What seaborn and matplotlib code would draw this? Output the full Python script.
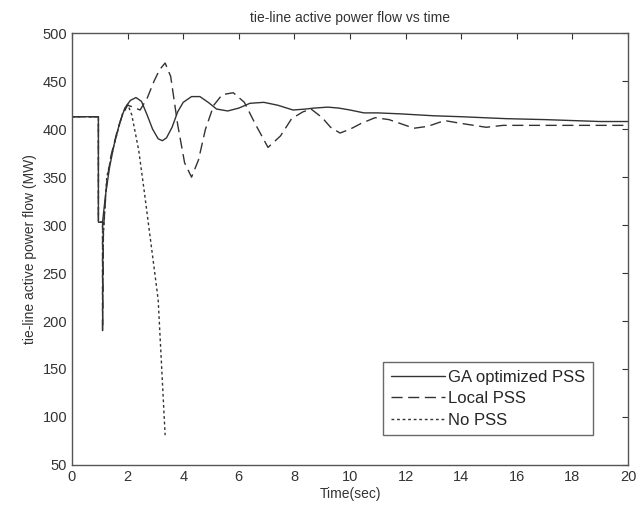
import pandas as pd
import matplotlib
matplotlib.use("Agg")
import matplotlib.pyplot as plt
import seaborn as sns

# Values
t_ga = [0, 0.95, 0.95, 1.1, 1.2, 1.35, 1.5, 1.7, 1.9, 2.1, 2.3, 2.5, 2.7, 2.9, 3.1, 3.25,
        3.4, 3.6, 3.8, 4.0, 4.3, 4.6, 4.9, 5.2, 5.6, 6.0, 6.4, 6.9, 7.4, 7.95, 8.4, 8.7,
        9.2, 9.6, 10.0, 10.5, 11.0, 11.8, 13.0, 14.0, 15.6, 17.0, 18.0, 19.0, 20.0]
p_ga = [413, 413, 303, 303, 330, 360, 382, 405, 422, 430, 433, 429, 415, 400, 390, 388,
        391, 402, 418, 428, 434, 434, 428, 421, 419, 422, 427, 428, 425, 420, 421, 422,
        423, 422, 420, 417, 417, 416, 414, 413, 411, 410, 409, 408, 408]

t_local = [0, 0.95, 0.95, 1.1, 1.1, 1.13, 1.25, 1.4, 1.6, 1.8, 2.0, 2.2, 2.45, 2.7, 2.95,
           3.15, 3.35, 3.55, 3.8, 4.05, 4.3, 4.55, 4.8, 5.1, 5.4, 5.8, 6.2, 6.6, 7.05, 7.5,
           7.9, 8.3, 8.6, 9.0, 9.3, 9.64, 10.0, 10.4, 10.9, 11.4, 11.8, 12.3, 12.8, 13.4,
           14.0, 14.9, 15.5, 16.0, 17.0, 18.0, 19.0, 20.0]
p_local = [413, 413, 303, 303, 190, 295, 345, 372, 395, 414, 425, 423, 420, 432, 450,
           462, 469, 455, 405, 365, 350, 368, 400, 425, 436, 438, 428, 405, 381, 393,
           411, 418, 421, 412, 402, 396, 400, 406, 412, 410, 406, 401, 403, 409,
           406, 402, 404, 404, 404, 404, 404, 404]

t_nopss = [0, 0.95, 0.95, 1.1, 1.1, 1.13, 1.25, 1.5, 1.8, 2.0, 2.15, 2.4, 2.6, 2.8, 3.0,
           3.1, 3.23, 3.35]
p_nopss = [413, 413, 303, 303, 190, 290, 350, 382, 415, 426, 415, 378, 335, 290, 245,
           222, 149, 81]

series = ["GA optimized PSS", "Local PSS", "No PSS"]

frames = []
for name, t, p in zip(series, [t_ga, t_local, t_nopss], [p_ga, p_local, p_nopss]):
    frames.append(pd.DataFrame({"Time": t, "Power": p, "Case": name}))
data = pd.concat(frames, ignore_index=True)

sns.set_style("white")
plt.rcParams["font.family"] = ["Liberation Sans", "DejaVu Sans"]

fig = plt.figure(figsize=(6.37, 5.12), dpi=100)
ax = fig.add_axes([0.113, 0.092, 0.873, 0.843])

styles = {"GA optimized PSS": "-", "Local PSS": (0, (8, 4)), "No PSS": (0, (2, 2))}
for name in series:
    sub = data[data["Case"] == name]
    sns.lineplot(x="Time", y="Power", data=sub, ax=ax, color="#333333",
                 linewidth=1.0, linestyle=styles[name], label=name,
                 sort=False, estimator=None)

ax.set_xlim(0, 20)
ax.set_ylim(50, 500)
ax.set_xticks(range(0, 21, 2))
ax.set_yticks(range(50, 501, 50))
ax.tick_params(direction="in", top=True, right=True, length=4, labelsize=10.5,
               colors="#333333", width=0.8)
for s in ax.spines.values():
    s.set_color("#555555")
    s.set_linewidth(1.0)

ax.set_title("tie-line active power flow vs time", fontsize=10, color="#333333", pad=8)
ax.set_xlabel("Time(sec)", fontsize=10, color="#333333", labelpad=2)
ax.set_ylabel("tie-line active power flow (MW)", fontsize=10, color="#333333", labelpad=4)

leg = ax.legend(loc="lower right", bbox_to_anchor=(0.937, 0.069), borderaxespad=0,
                fontsize=12, frameon=True, fancybox=False, edgecolor="#444444",
                handlelength=3.25, borderpad=0.45, labelspacing=0.38, handletextpad=0.2)
leg.get_frame().set_linewidth(1.0)

fig.savefig("out.png", dpi=100)
